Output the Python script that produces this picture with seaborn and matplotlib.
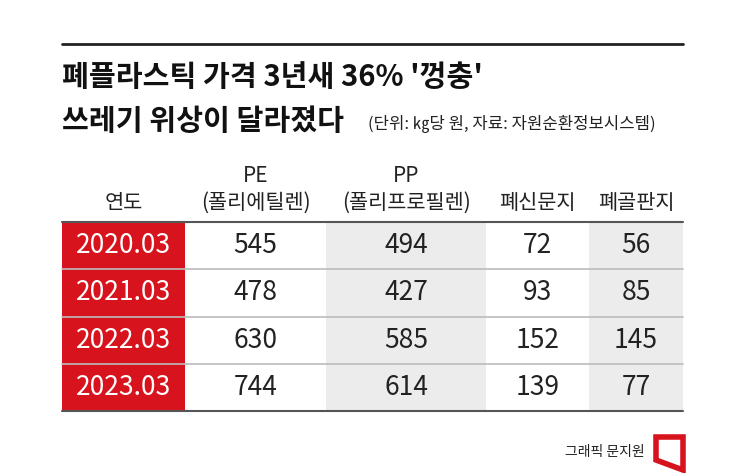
import numpy as np
import pandas as pd
import matplotlib
matplotlib.use("Agg")
import matplotlib.pyplot as plt
import seaborn as sns
from matplotlib.colors import ListedColormap
from matplotlib.patches import Polygon

years = ["2020.03", "2021.03", "2022.03", "2023.03"]
pe = [545, 478, 630, 744]
pp = [494, 427, 585, 614]
newspaper = [72, 93, 152, 139]
cardboard = [56, 85, 145, 77]
headers = ["연도", "PE\n(폴리에틸렌)", "PP\n(폴리프로필렌)", "폐신문지", "폐골판지"]

sns.set_theme(style="white")
plt.rcParams['font.family'] = ['Noto Sans CJK KR', 'DejaVu Sans']

W, H = 745, 473
fig = plt.figure(figsize=(W / 100, H / 100), dpi=100)

def fx(x):
    return x / W

def fy(y):
    return 1 - y / H

# column edges in pixels
edges = [62, 185, 326, 486, 589, 683]
fills = ["#d7141e", "#ffffff", "#ececec", "#ffffff", "#ececec"]
top, bottom = 222, 411
cols = [years, pe, pp, newspaper, cardboard]

for i, col in enumerate(cols):
    ax = fig.add_axes([fx(edges[i]), fy(bottom), fx(edges[i + 1] - edges[i]), (bottom - top) / H])
    df = pd.DataFrame({"v": np.zeros(len(col))})
    sns.heatmap(df, ax=ax, cmap=ListedColormap([fills[i]]), cbar=False,
                annot=np.array([[str(v)] for v in col]), fmt="",
                annot_kws={"fontsize": 19, "color": "white" if i == 0 else "#222222"},
                xticklabels=False, yticklabels=False)
    ax.set_xlabel("")
    ax.set_ylabel("")
    cx = (edges[i] + edges[i + 1]) / 2
    fig.text(fx(cx), fy(214), headers[i], ha="center", va="bottom", fontsize=15,
             color="#222222", linespacing=1.3)

# row lines
row_h = (bottom - top) / 4
for k in range(5):
    y = top + k * row_h
    c = "#555555" if k in (0, 4) else "#bbbbbb"
    fig.add_artist(plt.Line2D([fx(62), fx(683)], [fy(y), fy(y)], color=c, lw=1.5 if k in (0, 4) else 1.2))

# top rule and titles
fig.add_artist(plt.Line2D([fx(62), fx(683)], [fy(44), fy(44)], color="#222222", lw=2))
fig.text(fx(62), fy(77), "폐플라스틱 가격 3년새 36% '껑충'", fontsize=21, fontweight="bold",
         va="center", ha="left", color="#111111")
fig.text(fx(62), fy(121), "쓰레기 위상이 달라졌다", fontsize=21, fontweight="bold",
         va="center", ha="left", color="#111111")
fig.text(fx(368), fy(124), "(단위: ㎏당 원, 자료: 자원순환정보시스템)", fontsize=12,
         va="center", ha="left", color="#222222")

# footer logo
fig.text(fx(645), fy(452), "그래픽 문지원", fontsize=10, ha="right", va="center", color="#222222")
fig.add_artist(Polygon([[fx(656), fy(437)], [fx(683), fy(437)], [fx(683), fy(470)], [fx(656), fy(460)]],
                       closed=True, fill=False, edgecolor="#d7141e", lw=4, transform=fig.transFigure))

fig.savefig("out.png", dpi=100, facecolor="white")
